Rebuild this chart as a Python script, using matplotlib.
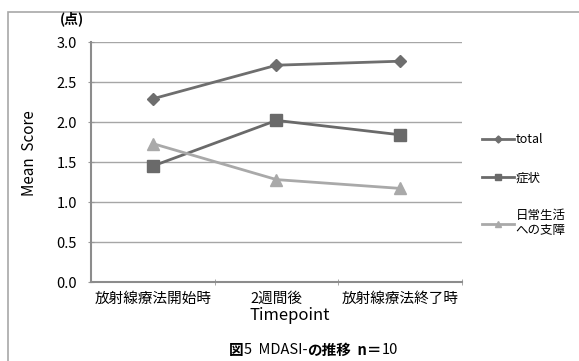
import matplotlib
matplotlib.use("Agg")
import matplotlib.pyplot as plt
from matplotlib.patches import Rectangle

plt.rcParams['font.family'] = ['Noto Sans CJK JP', 'DejaVu Sans']

categories = ["放射線療法開始時", "2週間後", "放射線療法終了時"]
total = [2.29, 2.71, 2.76]
symptom = [1.45, 2.02, 1.84]
daily = [1.73, 1.28, 1.17]
series_names = ["total", "症状", "日常生活\nへの支障"]
yticks = [0.0, 0.5, 1.0, 1.5, 2.0, 2.5, 3.0]

W, H = 579, 361
fig = plt.figure(figsize=(W/100, H/100), dpi=100)
ax = fig.add_axes([91/W, 1-282/H, (462-91)/W, (282-42)/H])

x = list(range(len(categories)))
c_total = "#6e6e6e"
c_sym = "#6a6a6a"
c_daily = "#a9a9a9"
ax.plot(x, total, color=c_total, lw=2.0, marker="D", ms=6.5, label=series_names[0], zorder=3)
ax.plot(x, symptom, color=c_sym, lw=2.0, marker="s", ms=8, label=series_names[1], zorder=3)
ax.plot(x, daily, color=c_daily, lw=2.0, marker="^", ms=8.5, label=series_names[2], zorder=3)

ax.set_xlim(-0.5, 2.5)
ax.set_ylim(0, 3.0)
ax.set_yticks(yticks)
ax.set_yticklabels([f"{v:.1f}" for v in yticks], fontsize=10.5)
ax.set_xticks(x)
ax.set_xticklabels(categories, fontsize=10.5)
ax.set_xticks([0.5, 1.5, 2.5], minor=True)
ax.tick_params(axis='x', which='major', length=0, pad=7)
ax.tick_params(axis='x', which='minor', length=4, color="#999999", direction='inout')
ax.tick_params(axis='y', length=4, color="#999999", direction='inout', pad=8)
ax.grid(axis='y', color="#a6a6a6", lw=1.0)
ax.set_axisbelow(True)
for s in ['top', 'right']:
    ax.spines[s].set_visible(False)
for s in ['left', 'bottom']:
    ax.spines[s].set_color("#8c8c8c")
    ax.spines[s].set_linewidth(1.5)

fig.text(290/W, 1-316/H, "Timepoint", fontsize=12, ha='center', va='center')
fig.text(30/W, 1-153/H, "Mean  Score", fontsize=11, ha='center', va='center', rotation=90)
fig.text(72/W, 1-19/H, "(点)", fontsize=10, fontweight='bold', ha='center', va='center')

leg = ax.legend(loc='upper left', bbox_to_anchor=(1.04, 0.64), frameon=False,
                fontsize=9, handlelength=2.6, labelspacing=2.0, markerscale=0.55,
                handletextpad=0.1, borderaxespad=0)

# caption with mixed weights
y_cap = 1-350/H
parts = [("図", 'bold'), ("5  MDASI-", 'normal'), ("の推移", 'bold'), ("  n＝", 'bold'), ("10", 'normal')]
fig.canvas.draw()
r = fig.canvas.get_renderer()
xpos = 229/W
for txt, w in parts:
    t = fig.text(xpos, y_cap, txt, fontsize=10.5, fontweight=w, ha='left', va='center')
    bb = t.get_window_extent(renderer=r)
    xpos += bb.width / W

fig.patches.append(Rectangle((8/W, -0.1), 1.2, 1-12/H+0.1, transform=fig.transFigure,
                             fill=False, ec="#a8a8a8", lw=1.2, clip_on=False))

fig.savefig("out.png", dpi=100)
